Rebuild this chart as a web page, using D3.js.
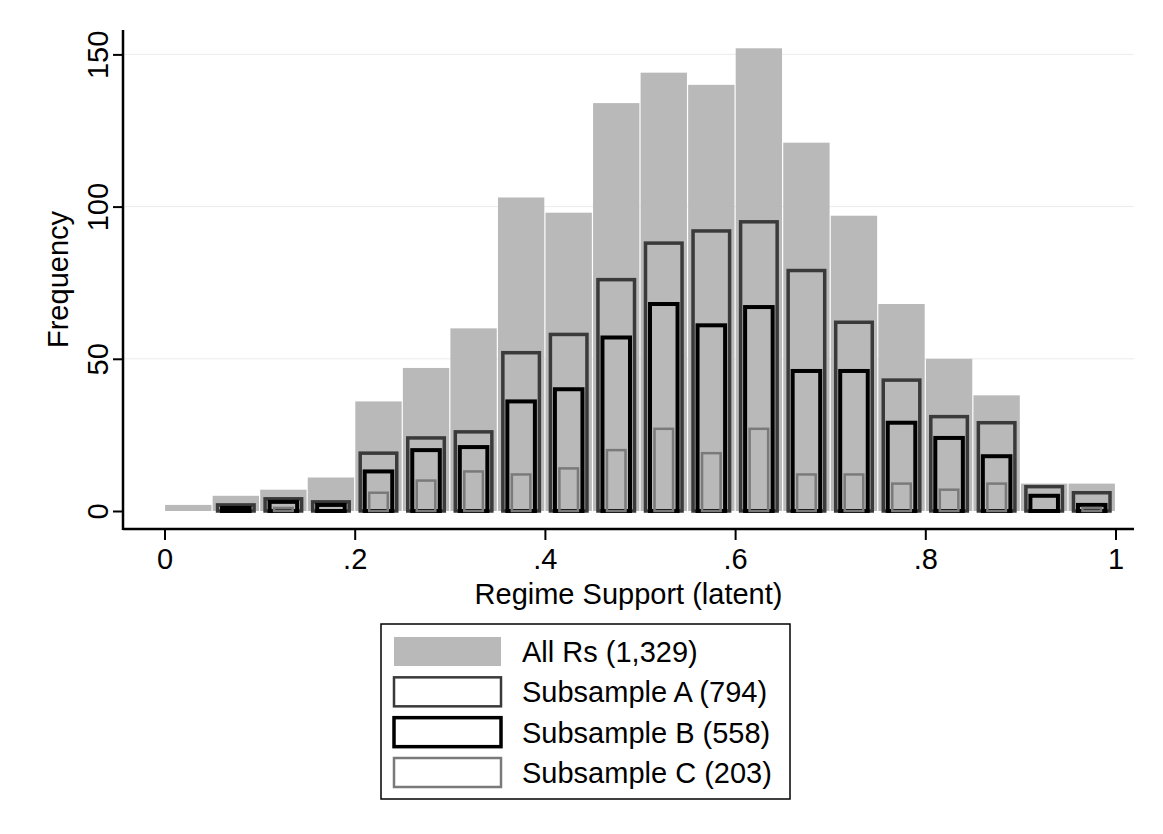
<!DOCTYPE html>
<meta charset="utf-8">
<style>

body {
  margin: 0;
  background: #fff;
}

text {
  font-family: "Liberation Sans", Arial, sans-serif;
  fill: #000;
}

</style>
<svg></svg>
<script src="https://d3js.org/d3.v7.min.js"></script>
<script>

// histogram bins (left edges), width .05
var binEdges = [0, .05, .1, .15, .2, .25, .3, .35, .4, .45, .5, .55, .6, .65, .7, .75, .8, .85, .9, .95];
var binWidth = 0.05;

var allRs = [2, 5, 7, 11, 36, 47, 60, 103, 98, 134, 144, 140, 152, 121, 97, 68, 50, 38, 9, 9];
var subA  = [0, 2, 4, 3, 19, 24, 26, 52, 58, 76, 88, 92, 95, 79, 62, 43, 31, 29, 8, 6];
var subB  = [0, 1, 3, 2, 13, 20, 21, 36, 40, 57, 68, 61, 67, 46, 46, 29, 24, 18, 5, 2];
var subC  = [0, 0, 1, 0, 6, 10, 13, 12, 14, 20, 27, 19, 27, 12, 12, 9, 7, 9, 0, 1];

var xTicks = [0, .2, .4, .6, .8, 1];
var xTickLabels = ["0", ".2", ".4", ".6", ".8", "1"];
var yTicks = [0, 50, 100, 150];

var legendLabels = ["All Rs (1,329)", "Subsample A (794)", "Subsample B (558)", "Subsample C (203)"];

var svg = d3.select("svg")
    .attr("width", 1163)
    .attr("height", 834);

var axisLeftX = 123,
    axisBottomY = 529,
    axisTopY = 30,
    axisRightX = 1134;

var x = d3.scaleLinear().domain([0, 1]).range([164.5, 1115.5]);
var y = d3.scaleLinear().domain([0, 150]).range([511, 54.4]);
var bw = x(binWidth) - x(0);

/* faint grid lines */
svg.append("g")
  .selectAll("line")
  .data(yTicks.slice(1))
  .enter().append("line")
    .attr("x1", axisLeftX)
    .attr("x2", axisRightX)
    .attr("y1", function(d) { return y(d); })
    .attr("y2", function(d) { return y(d); })
    .attr("stroke", "#ececec")
    .attr("stroke-width", 1);

/* All Rs: filled grey bars */
svg.append("g")
  .selectAll("rect")
  .data(allRs)
  .enter().append("rect")
    .attr("x", function(d, i) { return x(binEdges[i]) + 0.6; })
    .attr("width", bw - 1.2)
    .attr("y", function(d) { return y(d); })
    .attr("height", function(d) { return y(0) - y(d); })
    .attr("fill", "#b9b9b9");

/* subsamples: outlined bars, each one narrower */
var outlines = [
  {data: subA, inset: 5.5, stroke: "#3a3a3a", width: 3.5},
  {data: subB, inset: 10, stroke: "#000", width: 4},
  {data: subC, inset: 14.5, stroke: "#7a7a7a", width: 2.5}
];

outlines.forEach(function(s) {
  var bins = s.data
    .map(function(v, i) { return {v: v, x0: binEdges[i]}; })
    .filter(function(d) { return d.v > 0; });

  svg.append("g")
    .selectAll("rect")
    .data(bins)
    .enter().append("rect")
      .attr("x", function(d) { return x(d.x0) + s.inset; })
      .attr("width", bw - 2 * s.inset)
      .attr("y", function(d) { return y(d.v); })
      .attr("height", function(d) { return y(0) - y(d.v); })
      .attr("fill", "none")
      .attr("stroke", s.stroke)
      .attr("stroke-width", s.width);
});

/* axes */
var yAxis = svg.append("g")
    .attr("transform", "translate(" + axisLeftX + ",0)")
    .call(d3.axisLeft(y).tickValues(yTicks).tickSize(10).tickSizeOuter(0));

yAxis.select(".domain").remove();
yAxis.selectAll(".tick line").attr("stroke", "#000").attr("stroke-width", 2);
yAxis.selectAll(".tick text")
    .attr("transform", "rotate(-90)")
    .attr("text-anchor", "middle")
    .attr("x", 0)
    .attr("y", -15)
    .attr("dy", 0)
    .style("font-size", "29px");

var xAxis = svg.append("g")
    .attr("transform", "translate(0," + axisBottomY + ")")
    .call(d3.axisBottom(x).tickValues(xTicks).tickSize(11).tickSizeOuter(0)
      .tickFormat(function(d, i) { return xTickLabels[i]; }));

xAxis.select(".domain").remove();
xAxis.selectAll(".tick line").attr("stroke", "#000").attr("stroke-width", 2);
xAxis.selectAll(".tick text")
    .attr("y", 40)
    .attr("dy", 0)
    .style("font-size", "29px");

svg.append("line")
    .attr("x1", axisLeftX).attr("x2", axisLeftX)
    .attr("y1", axisTopY).attr("y2", axisBottomY + 1)
    .attr("stroke", "#000").attr("stroke-width", 2.5);

svg.append("line")
    .attr("x1", axisLeftX).attr("x2", axisRightX)
    .attr("y1", axisBottomY).attr("y2", axisBottomY)
    .attr("stroke", "#000").attr("stroke-width", 2.5);

/* axis titles */
svg.append("text")
    .attr("x", (axisLeftX + axisRightX) / 2)
    .attr("y", 604)
    .attr("text-anchor", "middle")
    .style("font-size", "29px")
    .text("Regime Support (latent)");

svg.append("text")
    .attr("transform", "translate(68," + (axisTopY + axisBottomY) / 2 + ") rotate(-90)")
    .attr("text-anchor", "middle")
    .style("font-size", "29px")
    .text("Frequency");

/* legend */
var legend = svg.append("g");

legend.append("rect")
    .attr("x", 381)
    .attr("y", 624)
    .attr("width", 409)
    .attr("height", 175)
    .attr("fill", "#fff")
    .attr("stroke", "#000")
    .attr("stroke-width", 1.5);

var swatchStyles = [
  {fill: "#b9b9b9", stroke: "none", width: 0},
  {fill: "#fff", stroke: "#3a3a3a", width: 2.5},
  {fill: "#fff", stroke: "#000", width: 3.5},
  {fill: "#fff", stroke: "#7a7a7a", width: 2.5}
];

var rowY = d3.scalePoint().domain(d3.range(legendLabels.length)).range([651.5, 772.5]);

var rows = legend.selectAll("g.row")
    .data(legendLabels)
    .enter().append("g")
    .attr("class", "row")
    .attr("transform", function(d, i) { return "translate(0," + rowY(i) + ")"; });

rows.append("rect")
    .attr("x", 394)
    .attr("y", -14.5)
    .attr("width", 107)
    .attr("height", 29)
    .attr("fill", function(d, i) { return swatchStyles[i].fill; })
    .attr("stroke", function(d, i) { return swatchStyles[i].stroke; })
    .attr("stroke-width", function(d, i) { return swatchStyles[i].width; });

rows.append("text")
    .attr("x", 522)
    .attr("y", 10.5)
    .style("font-size", "29px")
    .text(function(d) { return d; });

</script>
